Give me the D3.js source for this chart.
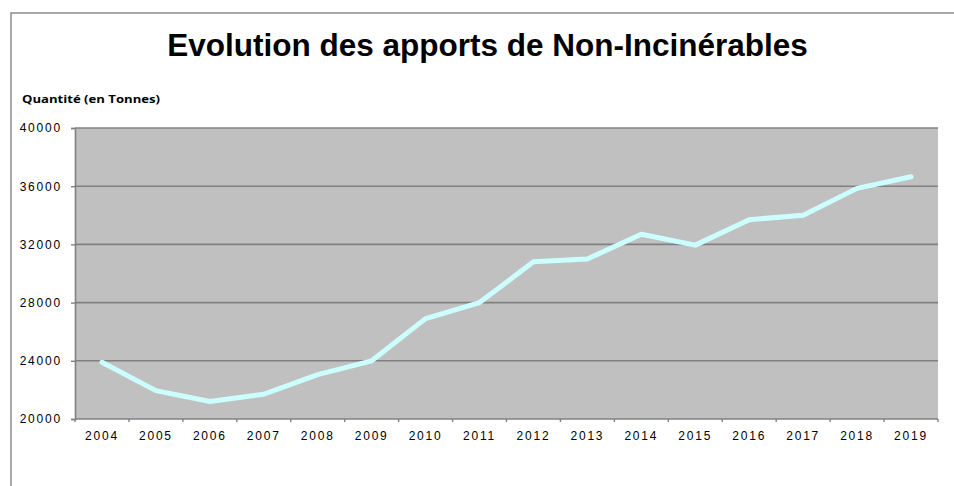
<!DOCTYPE html>
<html>
<head>
<meta charset="utf-8">
<script src="https://cdn.jsdelivr.net/npm/d3@7"></script>
<style>
  html, body { margin: 0; padding: 0; background: #ffffff; }
  svg { display: block; }
</style>
</head>
<body>
<svg id="chart" width="954" height="486"></svg>
<script>
const years = ["2004","2005","2006","2007","2008","2009","2010","2011","2012","2013","2014","2015","2016","2017","2018","2019"];
const quantities = [23900, 21950, 21200, 21700, 23050, 24000, 26900, 28000, 30800, 31000, 32700, 31950, 33700, 34000, 35850, 36650];
const yTicks = [20000, 24000, 28000, 32000, 36000, 40000];
const titleText = "Evolution des apports de Non-Incinérables";
const yLabelText = "Quantité (en Tonnes)";

const svg = d3.select("#chart");
const plot = { left: 75, right: 938, top: 128, bottom: 419 };

// outer frame (clipped on right and bottom like the reference)
svg.append("rect")
  .attr("x", 11).attr("y", 13)
  .attr("width", 960).attr("height", 500)
  .attr("fill", "#ffffff")
  .attr("stroke", "#8c8c8c").attr("stroke-width", 1.5);

// title
svg.append("text")
  .attr("x", 487.5).attr("y", 56)
  .attr("text-anchor", "middle")
  .attr("font-family", "'Liberation Sans', Arial, sans-serif")
  .attr("font-weight", "bold")
  .attr("font-size", 31.5)
  .attr("fill", "#000")
  .text(titleText);

// y axis label
svg.append("text")
  .attr("x", 22).attr("y", 103)
  .attr("font-family", "'Open Sans', 'Noto Sans', sans-serif")
  .attr("font-weight", "bold")
  .attr("font-size", 10.5)
  .attr("textLength", 138)
  .attr("lengthAdjust", "spacingAndGlyphs")
  .attr("fill", "#000")
  .text(yLabelText);

const x = d3.scaleBand().domain(years).range([plot.left, plot.right]).paddingInner(0).paddingOuter(0);
const y = d3.scaleLinear().domain([20000, 40000]).range([plot.bottom, plot.top]);

// plot background
svg.append("rect")
  .attr("x", plot.left).attr("y", plot.top)
  .attr("width", plot.right - plot.left).attr("height", plot.bottom - plot.top)
  .attr("fill", "#c0c0c0");

// gridlines
svg.append("g").selectAll("line").data(yTicks.filter(d => d > 20000)).join("line")
  .attr("x1", plot.left).attr("x2", plot.right)
  .attr("y1", d => y(d)).attr("y2", d => y(d))
  .attr("stroke", "#808080").attr("stroke-width", 1.6);

// y axis
const yAxis = svg.append("g")
  .attr("transform", `translate(${plot.left},0)`)
  .call(d3.axisLeft(y).tickValues(yTicks).tickSize(4).tickPadding(9).tickFormat(d3.format("d")));
yAxis.select(".domain").attr("stroke", "#808080").attr("stroke-width", 1.6);
yAxis.selectAll(".tick line").attr("stroke", "#808080").attr("stroke-width", 1.4);
yAxis.selectAll("text")
  .attr("font-family", "'Liberation Sans', Arial, sans-serif")
  .attr("font-size", 12)
  .attr("letter-spacing", "1.8px")
  .attr("fill", "#000");

// x axis with ticks at category boundaries
const xAxisG = svg.append("g").attr("transform", `translate(0,${plot.bottom})`);
xAxisG.append("line")
  .attr("x1", plot.left).attr("x2", plot.right)
  .attr("stroke", "#808080").attr("stroke-width", 1.6);
const boundaries = years.map(d => x(d)).concat([plot.right]);
xAxisG.selectAll("line.tk").data(boundaries).join("line").attr("class", "tk")
  .attr("x1", d => d).attr("x2", d => d).attr("y1", 0).attr("y2", 3)
  .attr("stroke", "#808080").attr("stroke-width", 1.4);
xAxisG.selectAll("text").data(years).join("text")
  .attr("x", d => x(d) + x.bandwidth() / 2)
  .attr("y", 21)
  .attr("text-anchor", "middle")
  .attr("font-family", "'Liberation Sans', Arial, sans-serif")
  .attr("font-size", 12)
  .attr("letter-spacing", "1.8px")
  .attr("fill", "#000")
  .text(d => d);

// line
const line = d3.line()
  .x((d, i) => x(years[i]) + x.bandwidth() / 2)
  .y(d => y(d));
svg.append("path")
  .datum(quantities)
  .attr("d", line)
  .attr("fill", "none")
  .attr("stroke", "#ccffff")
  .attr("stroke-width", 5)
  .attr("stroke-linejoin", "round")
  .attr("stroke-linecap", "round");
</script>
</body>
</html>
